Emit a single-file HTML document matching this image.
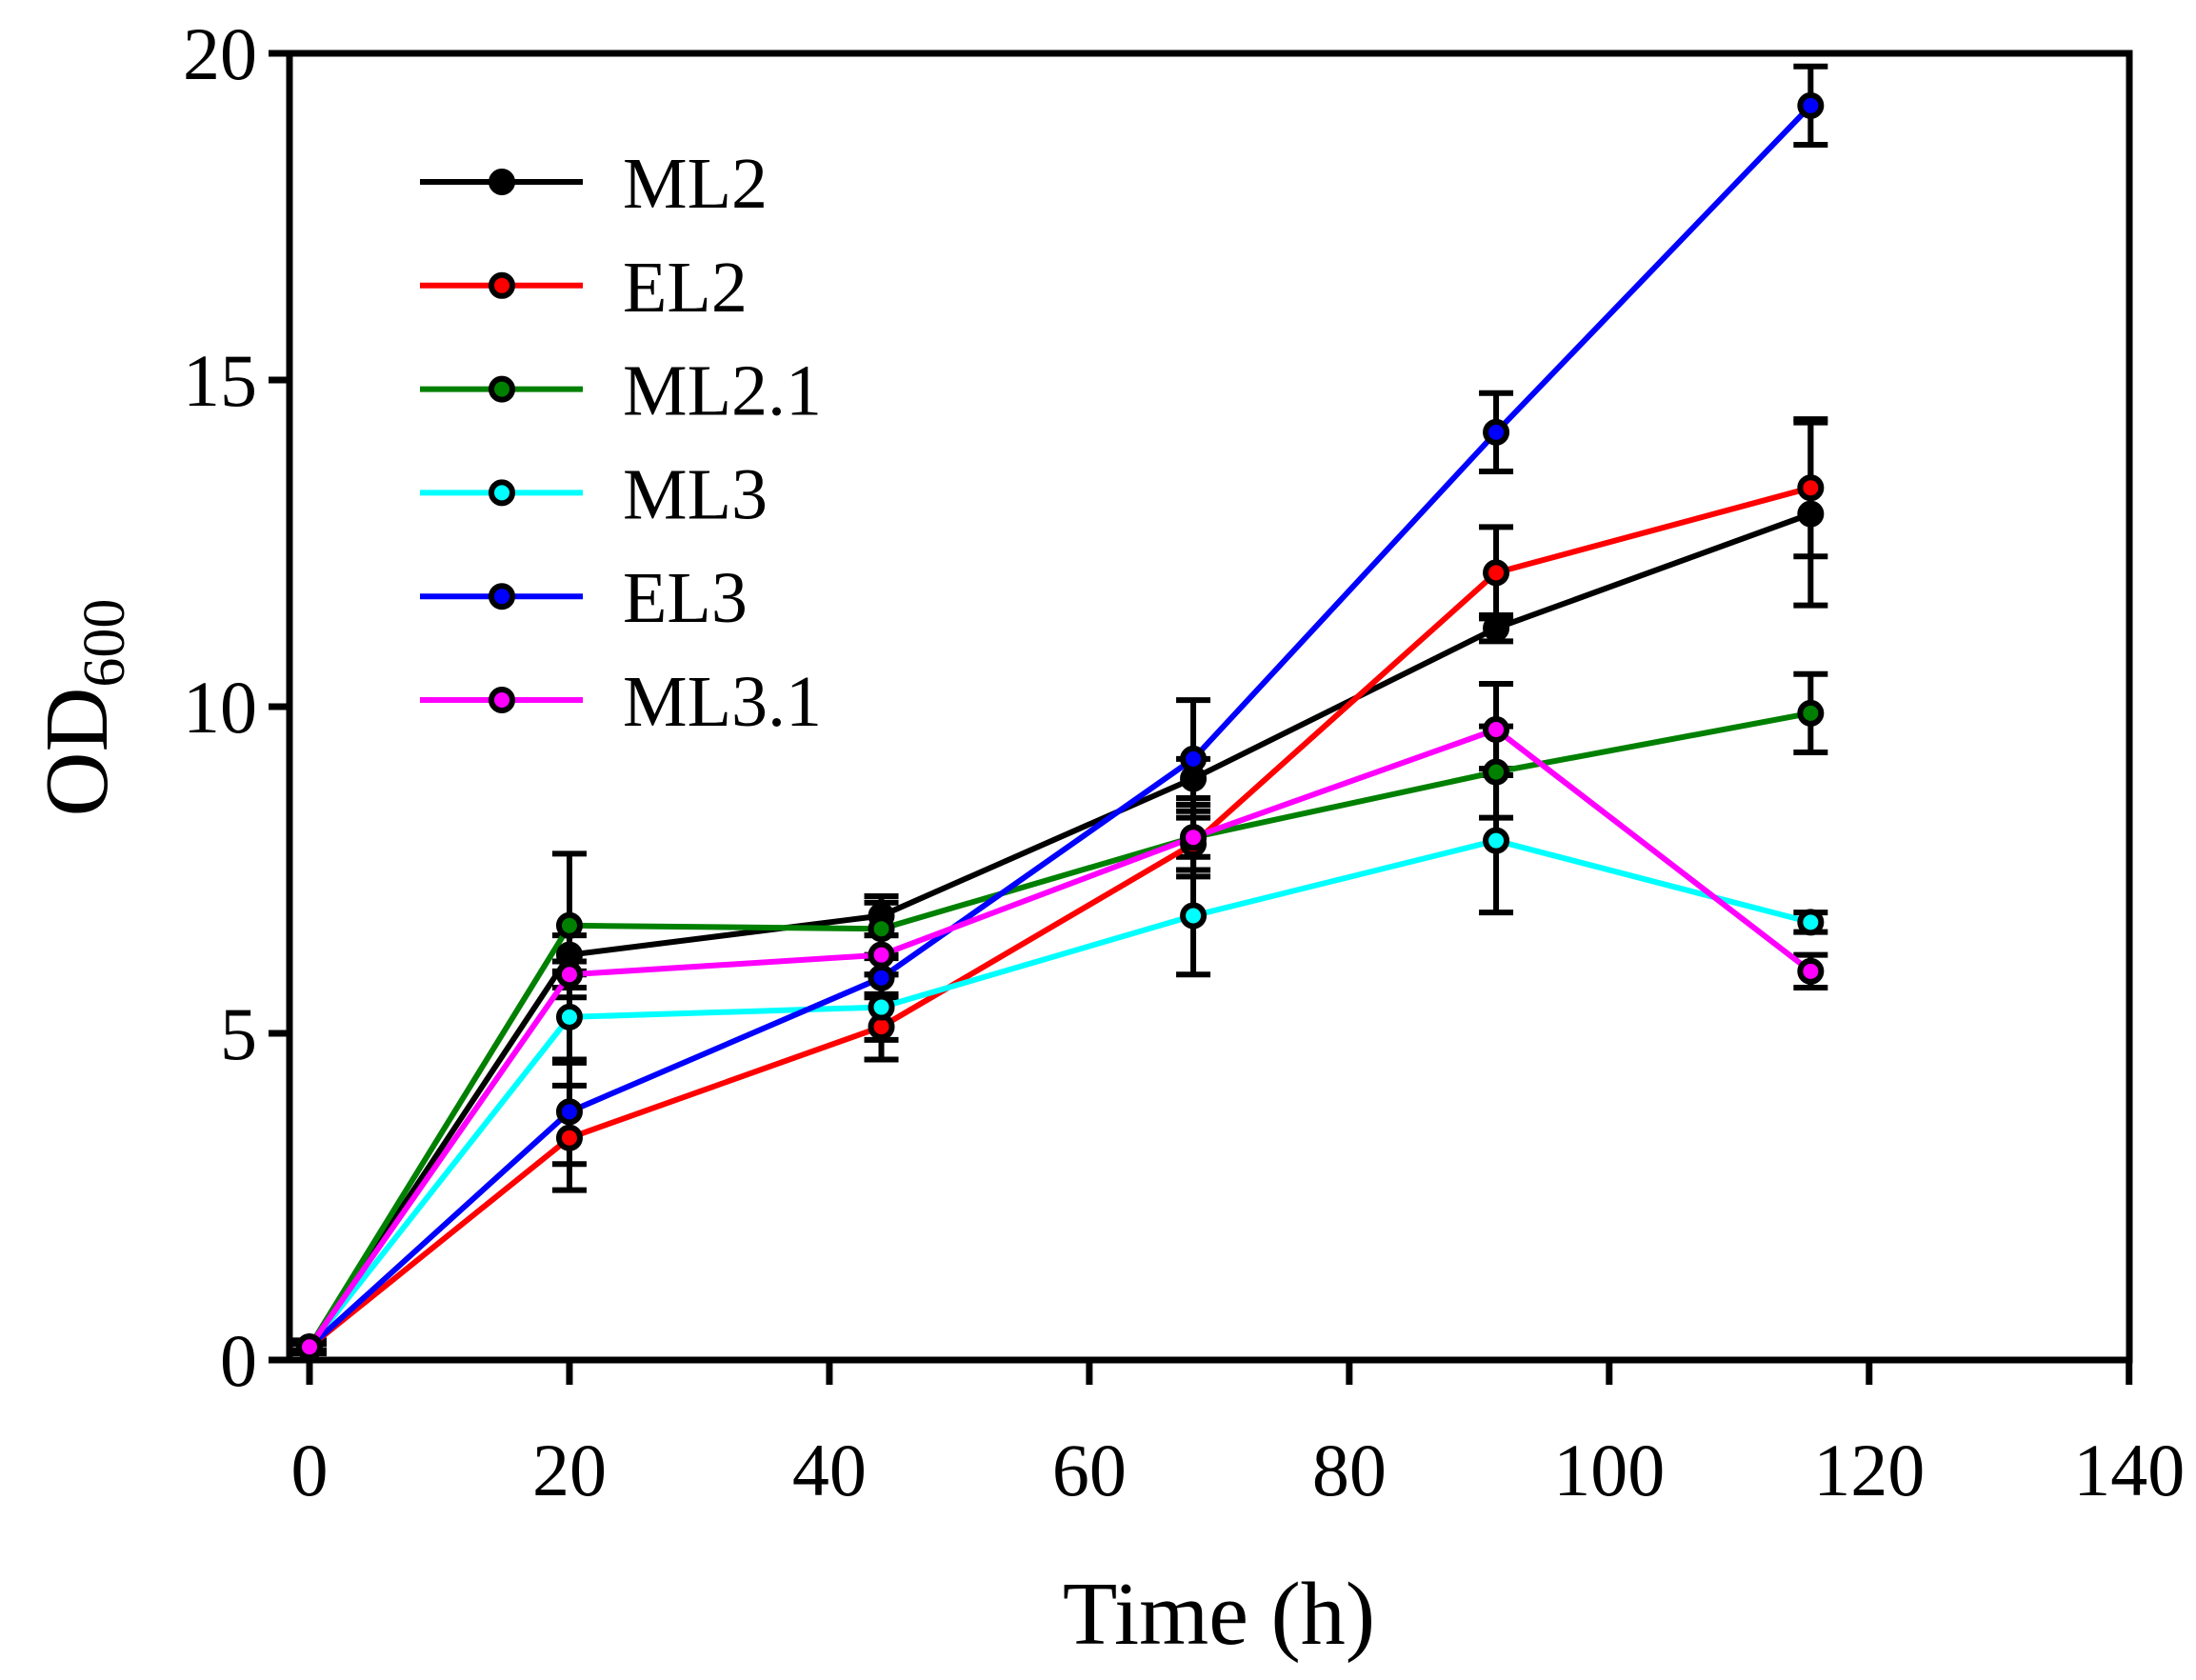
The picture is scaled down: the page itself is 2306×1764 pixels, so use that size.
<!DOCTYPE html>
<html><head><meta charset="utf-8"><style>
html,body{margin:0;padding:0;background:#fff;}
svg{display:block;font-family:"Liberation Serif",serif;}
</style></head><body>
<svg id="chart" width="2306" height="1764" viewBox="0 0 2306 1764">
<g id="axes"></g>
<g id="series"></g>
<g id="legend"></g>
</svg>
<script>
const times = [0, 20, 44, 68, 91.3, 115.5];
const seriesNames = ["ML2", "EL2", "ML2.1", "ML3", "EL3", "ML3.1"];
const seriesColors = ["#000000", "#ff0000", "#008000", "#00ffff", "#0000ff", "#ff00ff"];
const ml2 = [0.2, 6.2, 6.8, 8.9, 11.2, 12.95];
const el2 = [0.2, 3.4, 5.1, 7.9, 12.05, 13.35];
const ml21 = [0.2, 6.65, 6.6, 8.0, 9.0, 9.9];
const ml3 = [0.2, 5.25, 5.4, 6.8, 7.95, 6.7];
const el3 = [0.2, 3.8, 5.85, 9.2, 14.2, 19.2];
const ml31 = [0.2, 5.9, 6.2, 8.0, 9.65, 5.95];
const ml2Err = [0.1, 0.3, 0.3, 0.3, 0.2, 1.4];
const el2Err = [0.05, 0.8, 0.5, 0.5, 0.7, 1.05];
const ml21Err = [0.05, 1.1, 0.4, 0.5, 0.7, 0.6];
const ml3Err = [0.05, 0.7, 0.5, 0.9, 1.1, 0.15];
const el3Err = [0.05, 0.8, 0.3, 0.9, 0.6, 0.6];
const ml31Err = [0.05, 0.2, 0.3, 0.5, 0.7, 0.25];
const xTicks = [0, 20, 40, 60, 80, 100, 120, 140];
const yTicks = [0, 5, 10, 15, 20];

const NS = "http://www.w3.org/2000/svg";
const X0 = 325, XU = 13.648, Y0 = 1428, YU = 68.6;
const xs = v => X0 + v * XU;
const ys = v => Y0 - v * YU;
function mk(tag, attrs, parent) {
  const e = document.createElementNS(NS, tag);
  for (const k in attrs) e.setAttribute(k, attrs[k]);
  parent.appendChild(e);
  return e;
}
const axes = document.getElementById('axes');
const sg = document.getElementById('series');
const lg = document.getElementById('legend');

const frame = mk('rect', {x:304, y:56, width:1932, height:1372, fill:'none', stroke:'#000', 'stroke-width':7}, axes);



xTicks.forEach(t => {
  const tk = mk('line', {x1:xs(t), x2:xs(t), y1:1428, y2:1454, stroke:'#000', 'stroke-width':7}, axes);
  
  
  const lb = mk('text', {x:xs(t), y:1570, 'font-size':78, 'text-anchor':'middle'}, axes);
  lb.textContent = t;
  
  
});
yTicks.forEach(t => {
  const tk = mk('line', {x1:282, x2:304, y1:ys(t), y2:ys(t), stroke:'#000', 'stroke-width':7}, axes);
  
  
  const lb = mk('text', {x:270, y:ys(t)+27, 'font-size':78, 'text-anchor':'end'}, axes);
  lb.textContent = t;
  
  
});
const xt = mk('text', {x:1280, y:1726, 'font-size':94, 'text-anchor':'middle'}, axes);
xt.textContent = 'Time (h)';


const yt = mk('text', {x:0, y:0, 'font-size':94, 'text-anchor':'middle', transform:'translate(112,743) rotate(-90)'}, axes);
yt.innerHTML = 'OD<tspan font-size="62" dy="18">600</tspan>';



const allVals = [ml2, el2, ml21, ml3, el3, ml31];
const allErr = [ml2Err, el2Err, ml21Err, ml3Err, el3Err, ml31Err];

allVals.forEach((vals, s) => {
  vals.forEach((v, i) => {
    const e = allErr[s][i];
    const g = mk('g', {stroke:'#000', 'stroke-width':6}, sg);
    
    
    mk('line', {x1:xs(times[i]), x2:xs(times[i]), y1:ys(v-e), y2:ys(v+e)}, g);
    mk('line', {x1:xs(times[i])-18, x2:xs(times[i])+18, y1:ys(v-e), y2:ys(v-e)}, g);
    mk('line', {x1:xs(times[i])-18, x2:xs(times[i])+18, y1:ys(v+e), y2:ys(v+e)}, g);
  });
});
allVals.forEach((vals, s) => {
  const pts = vals.map((v, i) => xs(times[i]) + ',' + ys(v)).join(' ');
  const pl = mk('polyline', {points:pts, fill:'none', stroke:seriesColors[s], 'stroke-width':6}, sg);
  
  
});
allVals.forEach((vals, s) => {
  vals.forEach((v, i) => {
    const c = mk('circle', {cx:xs(times[i]), cy:ys(v), r:11, fill:seriesColors[s], stroke:'#000', 'stroke-width':6}, sg);
    
    
  });
});
seriesNames.forEach((n, s) => {
  const y = 191 + s * 108.8;
  const g = mk('g', {}, lg);
  
  
  mk('line', {x1:441, x2:612, y1:y, y2:y, stroke:seriesColors[s], 'stroke-width':6}, g);
  mk('circle', {cx:527, cy:y, r:11, fill:seriesColors[s], stroke:'#000', 'stroke-width':6}, g);
  const t = mk('text', {x:654, y:y+27, 'font-size':76}, g);
  t.textContent = n;
});
</script>
</body></html>
